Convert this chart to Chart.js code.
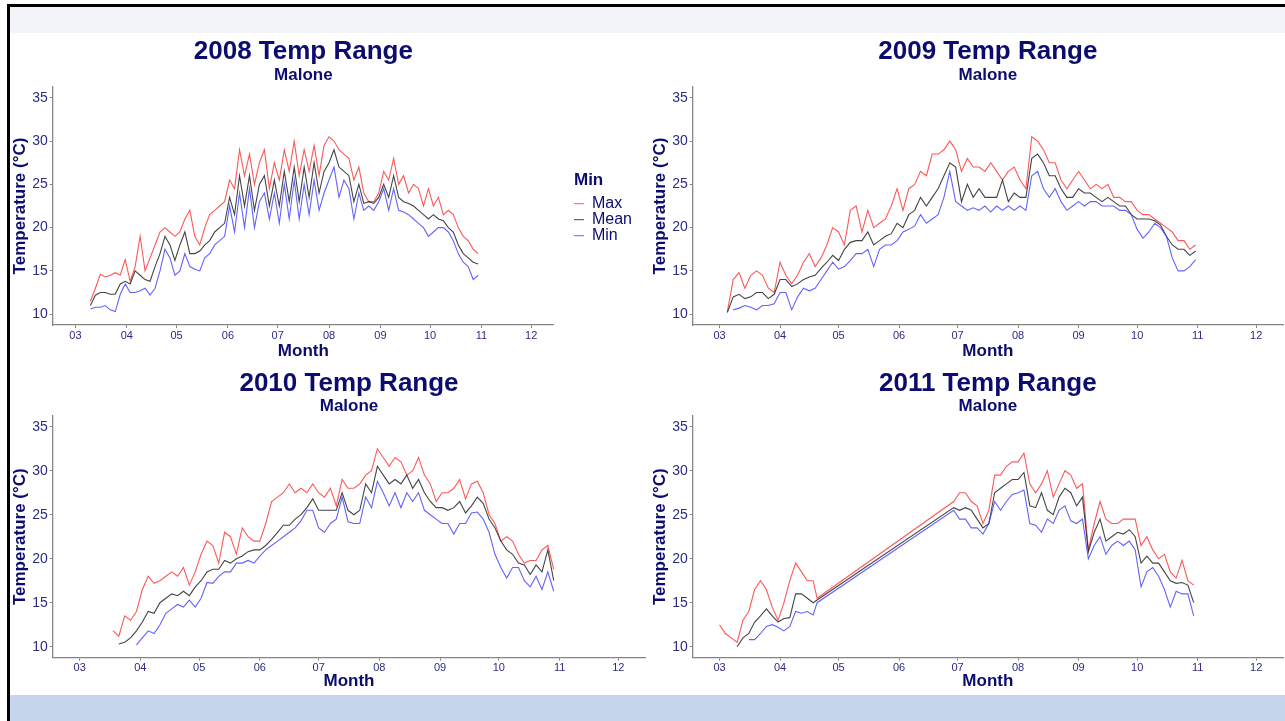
<!DOCTYPE html>
<html>
<head>
<meta charset="utf-8">
<script src="https://cdn.jsdelivr.net/npm/chart.js@4.4.1/dist/chart.umd.min.js"></script>
<style>
  html, body { margin:0; padding:0; background:#ffffff; }
  body { width:1285px; height:721px; overflow:hidden; position:relative; }
  #frame { position:absolute; left:7px; top:4px; right:0; bottom:0; border-left:3px solid #000; border-top:3px solid #000; }
  #topband { position:absolute; left:10px; top:7px; width:1275px; height:26px; background:#f2f4fa; }
  #botband { position:absolute; left:10px; top:695px; width:1275px; height:26px; background:#c5d5ec; }
  canvas { position:absolute; }
</style>
</head>
<body>
<div id="frame"></div>
<div id="topband"></div>
<div id="botband"></div>
<canvas id="c2008" width="640" height="329" style="left:10px;top:33px"></canvas>
<canvas id="c2009" width="635" height="329" style="left:650px;top:33px"></canvas>
<canvas id="c2010" width="640" height="333" style="left:10px;top:362px"></canvas>
<canvas id="c2011" width="635" height="333" style="left:650px;top:362px"></canvas>
<script>
// x values: days since 1 March of each year
const MONTH_TICKS = [0,31,61,92,122,153,184,214,245,275];
const MONTH_LABELS = ['03','04','05','06','07','08','09','10','11','12'];
const Y_TICKS = [10,15,20,25,30,35];

const days2008 = [9,12,15,18,21,24,27,30,33,36,39,42,45,48,51,54,57,60,63,66,69,72,75,78,81,84,87,90,93,96,99,102,105,108,111,114,117,120,123,126,129,132,135,138,141,144,147,150,153,156,159,162,165,168,171,174,177,180,183,186,189,192,195,198,201,204,207,210,213,216,219,222,225,228,231,234,237,240,243];
const max2008 = [11.5,13.0,14.6,14.3,14.5, 14.8,14.5,16.3,13.8,15.5, 19.0,15.0,16.5,18.0,19.5, 20.0,19.5,19.0,19.5,21.0, 22.0,19.0,18.0,20.0,21.5, 22.0,22.5,23.0,25.5,24.5, 29.0,26.0,28.5,25.0,27.5, 29.0,24.5,27.5,25.5,29.0, 26.5,30.0,26.0,29.0,26.5, 29.5,26.0,29.5,30.5,30.0, 29.0,28.5,28.0,25.5,27.0, 24.0,23.0,23.0,24.0,26.5, 25.5,28.0,25.0,26.0,24.0, 25.0,24.5,22.5,24.5,22.5, 23.5,21.5,22.0,21.5,20.0, 19.0,18.5,17.5,17.0];
const mean2008 = [11.0,12.2,12.5,12.5,12.3, 12.3,13.5,13.8,13.5,15.0, 14.5,14.0,13.8,15.5,17.0, 19.0,18.0,16.2,18.0,19.5, 17.0,17.0,17.3,18.0,18.5, 19.5,20.0,20.5,23.5,21.5, 26.0,22.5,26.0,22.0,25.0, 26.0,22.5,25.5,22.5,26.5, 23.0,27.0,23.0,27.0,23.5, 27.5,24.0,26.5,27.5,29.0, 27.0,26.5,26.0,23.0,25.0, 22.8,23.0,22.8,23.5,25.0, 23.5,26.0,23.5,23.0,22.8, 22.5,22.0,21.5,21.0,21.5, 21.0,20.8,20.0,19.5,18.0, 17.0,16.5,16.0,15.8];
const min2008 = [10.6,10.8,10.8,11.0,10.5, 10.3,12.3,13.5,12.5,12.5, 12.7,13.0,12.2,13.0,15.0, 17.5,16.5,14.5,15.0,17.0, 15.5,15.2,15.0,16.5,17.0, 18.0,18.5,19.0,22.5,19.5, 24.0,20.0,24.5,20.0,23.0, 24.0,21.0,24.0,20.5,25.0, 21.0,25.5,21.0,25.0,21.5, 25.5,22.0,24.0,25.5,27.0, 23.5,25.5,24.5,21.0,24.0, 22.0,22.5,22.0,23.0,24.5, 22.0,24.5,22.0,21.8,21.5, 21.0,20.5,20.0,19.0,19.5, 20.0,20.0,19.5,18.5,17.0, 16.0,15.5,14.0,14.5];

const days2009 = [4,7,10,13,16,19,22,25,28,31,34,37,40,43,46,49,52,55,58,61,64,67,70,73,76,79,82,85,88,91,94,97,100,103,106,109,112,115,118,121,124,127,130,133,136,139,142,145,148,151,154,157,160,163,166,169,172,175,178,181,184,187,190,193,196,199,202,205,208,211,214,217,220,223,226,229,232,235,238,241,244];
const max2009 = [10.3,14.0,14.8,13.0,14.5, 15.0,14.5,13.0,12.5,16.0, 14.5,13.5,14.5,16.0,17.0, 15.5,16.5,18.0,20.0,19.5, 18.0,22.0,22.5,19.5,22.0, 20.0,20.5,21.0,22.5,24.5, 22.0,24.5,25.0,26.5,26.0, 28.5,28.5,29.0,30.0,29.0, 26.5,28.0,27.0,27.0,26.5, 27.5,26.5,25.5,26.5,27.0, 25.5,24.5,30.5,30.0,29.0, 27.5,27.5,25.5,24.5,25.5, 26.5,25.5,24.5,25.0,24.5, 25.0,23.5,23.5,23.0,23.0, 22.0,21.5,21.5,21.0,20.5, 20.0,19.5,18.5,18.5,17.5, 18.0];
const mean2009 = [10.2,12.0,12.3,11.8,12.0, 12.5,12.5,11.8,12.3,14.0, 14.0,13.2,13.5,14.0,14.3, 14.5,15.3,16.0,16.8,16.2, 17.5,18.3,18.5,18.5,19.5, 18.0,18.5,19.0,19.3,20.5, 20.0,21.5,22.0,23.5,22.5, 23.5,24.5,26.0,27.5,27.0, 23.0,25.0,23.5,24.5,23.5, 23.5,23.5,25.5,23.0,24.0, 23.5,23.5,28.0,28.5,27.5, 26.0,26.0,24.5,23.5,23.5, 24.5,24.0,24.0,23.5,23.0, 23.5,23.0,22.5,22.5,21.5, 21.0,21.0,21.0,20.8,20.3, 19.0,18.0,17.5,17.5,16.8, 17.3];
const min2009 = [null,10.5,10.7,11.0,10.8, 10.5,11.0,11.0,11.2,12.5, 12.5,10.5,12.0,13.0,12.7, 13.0,14.0,15.0,16.0,15.2, 15.5,16.2,17.0,17.0,17.5, 15.5,17.5,18.0,18.0,18.5, 19.5,19.8,20.2,21.5,20.5, 21.0,21.5,23.5,26.5,23.0, 22.5,22.0,22.3,22.0,22.5, 21.8,22.5,22.0,22.5,22.0, 22.5,22.0,26.0,26.5,24.5, 23.5,24.5,23.0,22.0,22.5, 23.0,22.5,23.0,23.0,22.5, 22.5,22.5,22.0,22.0,21.5, 19.8,18.8,19.5,20.5,20.0, 19.0,16.5,15.0,15.0,15.5, 16.3];

const days2010 = [17,20,23,26,29,32,35,38,41,44,47,50,53,56,59,62,65,68,71,74,77,80,83,86,89,92,95,98,101,104,107,110,113,116,119,122,125,128,131,134,137,140,143,146,149,152,155,158,161,164,167,170,173,176,179,182,185,188,191,194,197,200,203,206,209,212,215,218,221,224,227,230,233,236,239,242];
const max2010 = [11.8,11.2,13.5,13.0,14.0, 16.5,18.0,17.2,17.5,18.0, 18.5,18.0,19.0,17.0,18.5, 20.5,22.0,21.5,19.5,23.0, 22.5,20.5,23.5,22.5,22.0, 22.0,24.0,26.5,27.0,27.5, 28.5,27.5,28.0,27.5,28.5, 27.5,27.0,28.0,26.0,29.0, 28.0,28.0,28.5,29.5,30.0, 32.5,31.5,30.5,31.5,31.0, 29.5,30.0,31.5,29.5,28.5, 26.5,27.5,27.5,28.0,29.0, 26.8,28.5,28.8,27.5,25.0, 24.0,22.0,22.5,22.0,20.5, 19.5,19.8,19.8,21.0,21.5, 18.8];
const mean2010 = [null,10.3,10.5,11.0,11.8, 12.8,14.0,13.8,15.0,15.5, 16.0,15.8,16.3,15.8,16.8, 17.5,18.5,18.8,18.8,19.8, 19.5,20.0,20.3,20.8,21.0, 21.0,21.5,22.2,23.0,23.8, 23.8,24.5,25.0,25.8,26.8, 25.5,25.5,25.5,25.5,27.5, 25.5,25.0,25.5,28.5,27.5, 30.5,29.5,28.5,29.0,28.5, 29.5,28.0,29.0,27.5,26.5, 25.8,25.8,25.5,25.8,26.5, 25.2,26.0,27.0,26.3,24.5, 23.5,22.0,21.0,20.5,19.5, 19.3,18.2,19.3,18.5,21.0, 17.5];
const min2010 = [null,null,null,null,10.2, 11.0,11.8,11.5,12.5,13.8, 14.3,14.8,14.5,15.3,14.5, 15.5,17.3,17.2,18.0,18.5, 18.5,19.5,19.5,19.8,19.5, 20.3,21.0,21.5,22.0,22.5, 23.0,23.5,24.3,25.5,25.5, 23.5,23.0,24.0,24.5,27.0, 24.2,24.0,24.0,27.0,25.8, 28.8,27.5,26.0,27.5,25.8, 27.5,26.5,27.5,25.5,25.0, 24.5,24.0,24.0,22.8,24.0, 24.0,25.2,25.3,24.5,23.0, 20.5,19.0,17.8,19.0,19.0, 17.5,16.8,18.0,16.5,18.5, 16.3];

const days2011 = [0,3,6,9,12,15,18,21,24,27,30,33,36,39,42,45,48,50,120,123,126,129,132,135,138,141,144,147,150,153,156,159,162,165,168,171,174,177,180,183,186,189,192,195,198,201,204,207,210,213,216,219,222,225,228,231,234,237,240,243];
const max2011 = [12.5,11.5,11.0,10.5,13.0,14.0,16.5,17.5,16.5,14.5,13.0,15.0,17.5,19.5,18.5,17.5,17.5,15.5, 26.5,27.5,27.5,26.5,26.0,24.0,25.5,29.5,29.5,30.5,31.0,31.0,32.0,28.5,27.5,28.5,30.0,27.0,28.5,30.0,29.5,28.0,28.5,21.0,24.0,26.5,24.5,24.0,24.0,24.5,24.5,24.5,21.5,22.5,21.0,20.0,20.5,18.5,17.8,19.8,17.5,17.0];
const mean2011 = [null,null,null,10.0,11.0,11.5,12.8,13.5,14.3,13.5,12.8,13.2,13.3,16.0,16.0,15.5,15.0,15.3, 25.8,25.5,25.8,25.5,24.5,23.5,24.0,27.5,28.0,28.5,29.0,29.0,29.8,26.0,25.8,27.5,25.5,25.0,27.0,28.0,27.5,26.0,27.0,20.8,23.0,24.5,22.0,22.5,23.0,22.8,23.3,22.5,19.5,20.3,19.5,19.5,18.5,17.5,17.2,17.3,17.0,15.0];
const min2011 = [null,null,null,null,null,10.8,10.8,11.5,12.3,12.5,12.2,11.8,12.3,14.0,13.8,14.0,13.6,15.0, 25.5,24.5,24.5,23.5,23.5,22.8,24.0,26.5,25.5,26.5,27.3,27.5,27.8,24.0,23.8,23.0,24.5,24.0,25.5,26.0,24.3,24.0,24.5,20.0,21.5,22.5,20.5,21.5,22.0,21.5,22.0,21.0,16.8,18.5,19.0,18.0,16.5,14.5,16.3,16.0,16.0,13.5];

const FONT = "'Liberation Sans', Arial, Helvetica, sans-serif";
const NAVY = '#0c0c6e';
const TICKC = '#2b2b85';
const AXISC = '#858585';
const COL_MAX = 'rgba(250,60,60,0.85)';
const COL_MEAN = 'rgba(35,35,35,0.85)';
const COL_MIN = 'rgba(60,60,250,0.8)';

const legendShift = {
  id: 'legendShift',
  afterLayout(chart) {
    const lg = chart.legend;
    if (lg) { lg.left += 20; lg.right += 20; }
  }
};

function panel(id, year, days, mx, mean, mn, cfg) {
  const pts = arr => days.map((d, i) => ({ x: d, y: arr[i] }));
  const axisCommon = {
    grid: { display: true, drawOnChartArea: false, drawTicks: true, tickLength: 3, color: AXISC },
    border: { display: true, color: AXISC, width: 1.3 }
  };
  return new Chart(document.getElementById(id), {
    type: 'line',
    data: {
      datasets: [
        { label: 'Max', data: pts(mx), borderColor: COL_MAX, backgroundColor: COL_MAX, order: 2 },
        { label: 'Mean', data: pts(mean), borderColor: COL_MEAN, backgroundColor: COL_MEAN, order: 1 },
        { label: 'Min', data: pts(mn), borderColor: COL_MIN, backgroundColor: COL_MIN, order: 0 }
      ]
    },
    options: {
      responsive: false,
      animation: false,
      devicePixelRatio: 1,
      elements: { line: { borderWidth: 1.1, tension: 0, fill: false }, point: { radius: 0 } },
      layout: { padding: { left: 0, top: 0, right: cfg.padR, bottom: cfg.padB } },
      plugins: {
        tooltip: { enabled: false },
        title: {
          display: true, text: year + ' Temp Range', color: NAVY, fullSize: false,
          font: { family: FONT, size: 26, weight: 'bold', lineHeight: 1 },
          padding: { top: cfg.tPadT, bottom: 0 }
        },
        subtitle: {
          display: true, text: 'Malone', color: NAVY, fullSize: false,
          font: { family: FONT, size: 17, weight: 'bold', lineHeight: 1 },
          padding: { top: cfg.sPadT, bottom: cfg.sPadB }
        },
        legend: cfg.legend ? {
          display: true, position: 'right', align: 'center', fullSize: false,
          title: { display: true, text: 'Min', color: NAVY, position: 'start',
                   font: { family: FONT, size: 17, weight: 'bold' }, padding: { top: 4, bottom: 3 } },
          labels: {
            usePointStyle: true, pointStyle: 'line', pointStyleWidth: 10,
            color: NAVY, font: { family: FONT, size: 16 }, padding: 0,
            sort: (a, b) => a.datasetIndex - b.datasetIndex
          }
        } : { display: false }
      },
      scales: {
        x: Object.assign({
          type: 'linear', min: -13.75, max: 288.75,
          afterBuildTicks: s => { s.ticks = MONTH_TICKS.map(v => ({ value: v })); },
          afterFit: s => { s.height = cfg.xH; },
          ticks: { callback: (v, i) => MONTH_LABELS[i], color: TICKC, font: { family: FONT, size: 11 },
                   padding: 1, maxRotation: 0, autoSkip: false },
          title: { display: true, text: 'Month', color: NAVY, padding: 0,
                   font: { family: FONT, size: 17, weight: 'bold', lineHeight: 1.2 } }
        }, axisCommon),
        y: Object.assign({
          min: 8.75, max: 36.25,
          afterBuildTicks: s => { s.ticks = Y_TICKS.map(v => ({ value: v })); },
          afterFit: s => { s.width = 42.7; },
          ticks: { color: TICKC, font: { family: FONT, size: 14 }, padding: 2 },
          title: { display: true, text: 'Temperature (°C)', color: NAVY, padding: 0,
                   font: { family: FONT, size: 17, weight: 'bold', lineHeight: 1.2 } }
        }, axisCommon)
      }
    },
    plugins: cfg.legend ? [legendShift] : []
  });
}

const TOP = { tPadT: 6, sPadT: 1.5, sPadB: 3.5, xH: 37, padB: 0 };
const BOT = { tPadT: 9, sPadT: 0.5, sPadB: 1.2, xH: 34.2, padB: 3.1 };

panel('c2008', '2008', days2008, max2008, mean2008, min2008, Object.assign({}, TOP, { padR: 28, legend: true }));
panel('c2009', '2009', days2009, max2009, mean2009, min2009, Object.assign({}, TOP, { padR: 2, legend: false }));
panel('c2010', '2010', days2010, max2010, mean2010, min2010, Object.assign({}, BOT, { padR: 4.7, legend: false }));
panel('c2011', '2011', days2011, max2011, mean2011, min2011, Object.assign({}, BOT, { padR: 2, legend: false }));
</script>
</body>
</html>
